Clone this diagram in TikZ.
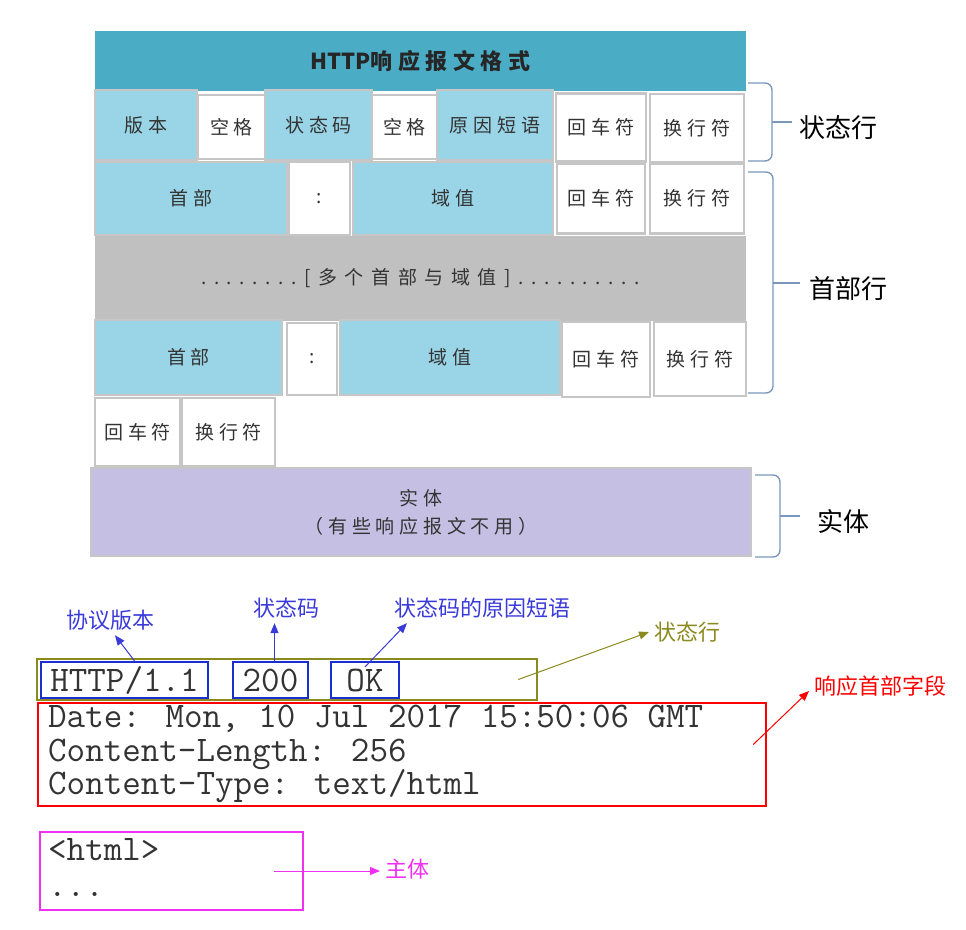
\documentclass[tikz,border=0pt]{standalone}
\usepackage{fontspec}
\newfontfamily\cjk{Noto Sans CJK SC}
\newfontfamily\cellfont[LetterSpace=25]{Noto Sans CJK SC}
\newfontfamily\bandfont[LetterSpace=40]{Noto Sans CJK SC}
\usetikzlibrary{arrows.meta}
\definecolor{titleblue}{HTML}{4BACC6}
\definecolor{cellblue}{HTML}{99D5E7}
\definecolor{bandgray}{HTML}{C0C0C0}
\definecolor{linegray}{HTML}{C6C6C6}
\definecolor{entpurple}{HTML}{C6BFE4}
\definecolor{bracecol}{HTML}{7B97BB}
\definecolor{noteblue}{HTML}{3A3ADB}
\definecolor{boxblue}{HTML}{1A2FD0}
\definecolor{olivecol}{HTML}{8A8A1E}
\definecolor{pinkcol}{HTML}{F030F0}
\tikzset{
  cell/.style={draw=linegray, line width=2.5pt, inner sep=0pt, outer sep=0pt,
    font=\cellfont\fontsize{19}{28}\selectfont, text=black!80},
  bluecell/.style={cell, fill=cellblue},
  whitecell/.style={cell, fill=white},
  bracepath/.style={draw=bracecol, line width=1.4pt, rounded corners=7pt},
  sidelabel/.style={font=\cjk\fontsize{26}{30}\selectfont, inner sep=0pt},
  note/.style={font=\cjk\fontsize{22}{26}\selectfont, inner sep=0pt, outer sep=5pt},
  mono/.style={font=\ttfamily\fontsize{36}{40}\selectfont, text=black!80, inner sep=0pt,
    text height=22pt, text depth=4pt},
  tokbox/.style={draw=boxblue, line width=2.2pt, inner sep=0pt, minimum height=36,
    font=\ttfamily\fontsize{36}{40}\selectfont, text=black!80},
  areabox/.style={line width=2.5pt, inner sep=0pt},
  ann/.style={-{Triangle[length=10pt,width=8pt]}, line width=1pt}
}
\begin{document}
\begin{tikzpicture}[x=1pt, y=-1pt]
\useasboundingbox (0,0) rectangle (966,929);
% format table
\node[fill=titleblue, minimum width=651, minimum height=60, inner sep=0pt,
  font=\bfseries\fontsize{22}{26}\selectfont, text=black!85] (title) at (420.5,61) {\cjk HTTP\cellfont 响应报文格式};
% status line
\node[bluecell, minimum width=102, minimum height=70] (ver) at (146,125) {版本};
\node[whitecell, minimum width=67, minimum height=64] (sp1) at (231.5,127) {空格};
\node[bluecell, minimum width=107, minimum height=70] (code) at (318.5,125) {状态码};
\node[whitecell, minimum width=65, minimum height=64] (sp2) at (404.5,127) {空格};
\node[bluecell, minimum width=116, minimum height=70] (reason) at (495,125) {原因短语};
\node[whitecell, minimum width=90, minimum height=68] (cr1) at (601,127.5) {回车符};
\node[whitecell, minimum width=94, minimum height=68] (lf1) at (697,128) {换行符};
% header lines
\node[bluecell, minimum width=192, minimum height=73] (hd1) at (191,198.5) {首部};
\node[whitecell, minimum width=61, minimum height=73] (col1) at (319.5,198.5) {:};
\node[bluecell, minimum width=200, minimum height=73] (val1) at (453,198.5) {域值};
\node[whitecell, minimum width=88, minimum height=70] (cr2) at (601,198.5) {回车符};
\node[whitecell, minimum width=94, minimum height=70] (lf2) at (697,198.5) {换行符};
\node[fill=bandgray, minimum width=651, minimum height=85, inner sep=0pt,
  font=\bandfont\fontsize{19}{24}\selectfont, text=black!80] (band) at (420.5,278) {........[多个首部与域值]..........};
\node[bluecell, minimum width=187, minimum height=75] (hd2) at (188.5,357.5) {首部};
\node[whitecell, minimum width=50, minimum height=72] (col2) at (312,359) {:};
\node[bluecell, minimum width=220, minimum height=75] (val2) at (450,357.5) {域值};
\node[whitecell, minimum width=88, minimum height=75] (cr3) at (606,359.5) {回车符};
\node[whitecell, minimum width=92, minimum height=74] (lf3) at (700,359) {换行符};
% empty line
\node[whitecell, minimum width=85, minimum height=68] (cr4) at (137.5,432) {回车符};
\node[whitecell, minimum width=93, minimum height=68] (lf4) at (228.5,432) {换行符};
% entity
\node[cell, fill=entpurple, minimum width=660, minimum height=88, align=center] (ent) at (421,512) {实体\\（有些响应报文不用）};
% braces
\draw[bracepath] (748,83) -| (772,122) |- (748,161);
\draw[bracepath] (772,122) -- (792,122);
\node[sidelabel] (stline) at (838,128) {状态行};
\draw[bracepath] (748,172) -| (773,283) |- (748,393);
\draw[bracepath] (773,283) -- (800,283);
\node[sidelabel] (hdline) at (848,289) {首部行};
\draw[bracepath] (755,475) -| (780,516) |- (755,557);
\draw[bracepath] (780,516) -- (800,516);
\node[sidelabel] (entline) at (843,521) {实体};
% example response
\node[areabox, draw=olivecol, minimum width=500, minimum height=41] (sline) at (287,679.5) {};
\node[tokbox, minimum width=167] (http) at (124.5,680) {HTTP/1.1};
\node[tokbox, minimum width=75] (num) at (270.5,680) {200};
\node[tokbox, minimum width=68] (ok) at (365,680) {OK};
\node[areabox, draw=red, minimum width=728, minimum height=103] (hdr) at (402,754.5) {};
\node[mono, anchor=base west] (date) at (48,727) {Date: Mon, 10 Jul 2017 15:50:06 GMT};
\node[mono, anchor=base west] (len) at (48,761) {Content-Length: 256};
\node[mono, anchor=base west] (typ) at (48,794) {Content-Type: text/html};
\node[areabox, draw=pinkcol, minimum width=263, minimum height=78] (body) at (171.5,871) {};
\node[mono, anchor=base west] (html) at (48,860) {<html>};
\node[mono, anchor=base west] (dots) at (48,896) {...};
% annotations
\node[note, text=noteblue] (pv) at (110,620) {协议版本};
\node[note, text=noteblue] (sc) at (286,608) {状态码};
\node[note, text=noteblue] (rs) at (482,608) {状态码的原因短语};
\node[note, text=olivecol] (st) at (687,632) {状态行};
\node[note, text=red] (rf) at (880,686) {响应首部字段};
\node[note, text=pinkcol] (mb) at (407,869) {主体};
\draw[ann, noteblue] ([xshift=10pt]http.north) -- ([xshift=5pt]pv.south);
\draw[ann, noteblue] ([xshift=4pt]num.north) -- ([xshift=4pt]num.north |- sc.south);
\draw[ann, noteblue] ([yshift=-6pt]ok.north) -- ([xshift=-75pt]rs.south);
\draw[ann, olivecol] ([xshift=-20pt]sline.east) -- (st.west);
\draw[ann, red] ([xshift=-14pt,yshift=10pt]hdr.east) -- ([yshift=-5pt]rf.west);
\draw[ann, pinkcol] ([xshift=-30pt]body.east) -- (body.east -| mb.west);
\end{tikzpicture}
\end{document}
